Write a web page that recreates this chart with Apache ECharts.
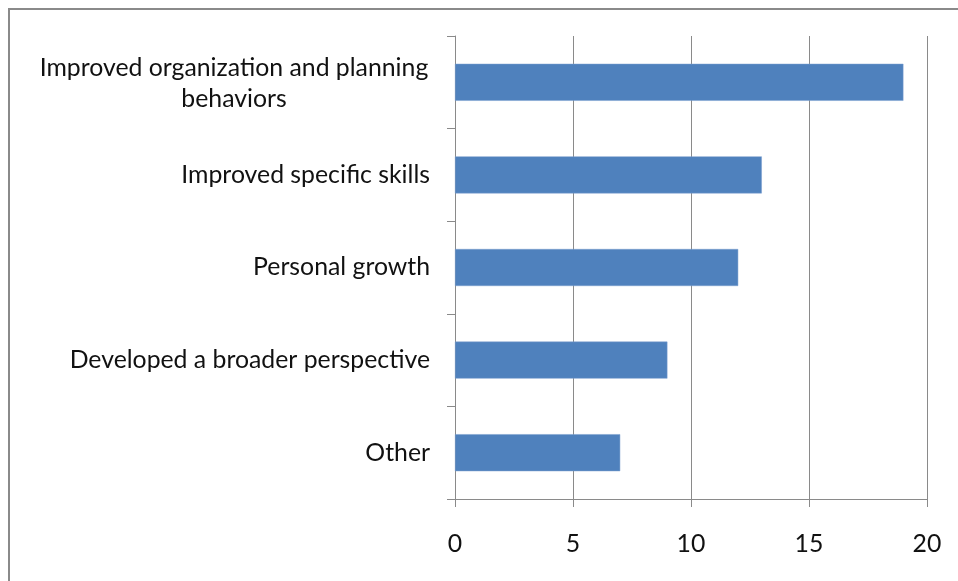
<!DOCTYPE html>
<html><head><meta charset="utf-8">
<script src="https://cdn.jsdelivr.net/npm/echarts@6/dist/echarts.min.js"></script>
<style>html,body{margin:0;padding:0;background:#fff}#c{width:958px;height:581px}</style>
</head><body><div id="c"></div>
<script>
const categories = ["Improved organization and planning\nbehaviors", "Improved specific skills", "Personal growth", "Developed a broader perspective", "Other"];
const values = [19, 13, 12, 9, 7];
const xTicks = [0, 5, 10, 15, 20];

const chart = echarts.init(document.getElementById('c'));
const font = 'Lato, "Open Sans", sans-serif';
const fs = 24.8;
chart.setOption({
  animation: false,
  graphic: [{type:'rect', shape:{x:9, y:9, width:1200, height:1200}, style:{fill:'none', stroke:'#8a8a8a', lineWidth:2}, z:-1}],
  grid: {left:455, right:31, top:36, bottom:82},
  xAxis: {
    type:'value', min:xTicks[0], max:xTicks[xTicks.length-1], interval:5,
    axisLine:{show:true, lineStyle:{color:'#8a8a8a', width:1}},
    axisTick:{show:true, length:8, lineStyle:{color:'#8a8a8a'}},
    splitLine:{show:true, lineStyle:{color:'#8a8a8a', width:1}},
    axisLabel:{color:'#111', fontSize:fs, fontFamily:font, margin:33}
  },
  yAxis: {
    type:'category', inverse:true, data:categories,
    axisLine:{show:true, lineStyle:{color:'#8a8a8a', width:1}},
    axisTick:{show:true, length:8, lineStyle:{color:'#8a8a8a'}},
    axisLabel:{color:'#111', fontSize:fs, fontFamily:font, margin:25, lineHeight:31,
      formatter: function(v){ return v.indexOf('\n')>=0 ? '{c|'+v+'}' : v; },
      rich:{c:{align:'center', width:392, fontSize:fs, fontFamily:font, color:'#111', lineHeight:31, padding:[2,0,0,0]}}
    }
  },
  series: [{type:'bar', data:values, barWidth:37, itemStyle:{color:'#4F81BD', borderColor:'#7a9fcf', borderWidth:0.5}}]
});
</script></body></html>
